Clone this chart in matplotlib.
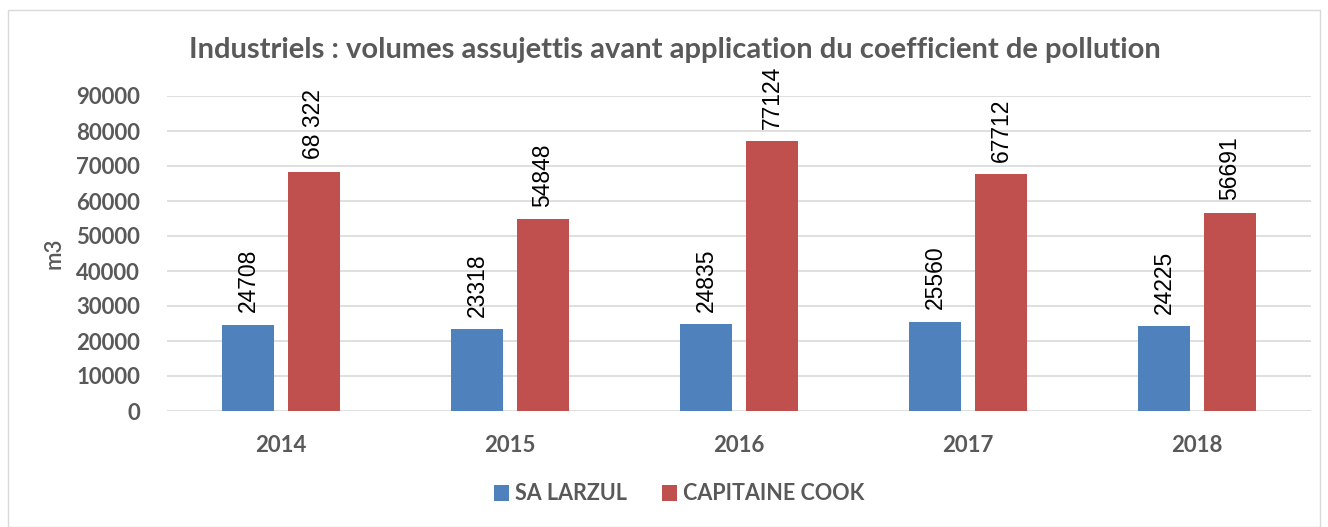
import matplotlib
matplotlib.use("Agg")
import matplotlib.pyplot as plt
import numpy as np
from matplotlib.patches import Rectangle

years = ["2014", "2015", "2016", "2017", "2018"]
sa_larzul = [24708, 23318, 24835, 25560, 24225]
capitaine_cook = [68322, 54848, 77124, 67712, 56691]
label_sa = ["24708", "23318", "24835", "25560", "24225"]
label_cc = ["68 322", "54848", "77124", "67712", "56691"]
series_names = ["SA LARZUL", "CAPITAINE COOK"]
yticks = list(range(0, 90001, 10000))

BLUE = "#4F81BD"
RED = "#C0504D"
GREY = "#595959"

fig = plt.figure(figsize=(13.28, 5.27), dpi=100)
fig.patch.set_facecolor("white")
# chart border
fig.add_artist(Rectangle((8/1328, 0.0), (1320-8)/1328, 1 - 10/527, transform=fig.transFigure,
                         fill=False, edgecolor="#D9D9D9", linewidth=1.0))

ax = fig.add_axes([166.5/1328, 1 - 411/527, (1311.5-166.5)/1328, (411-96)/527])
x = np.arange(len(years))
w = 0.227
off = 0.144
b1 = ax.bar(x - off, sa_larzul, width=w, color=BLUE, label=series_names[0], zorder=3)
b2 = ax.bar(x + off, capitaine_cook, width=w, color=RED, label=series_names[1], zorder=3)

for bars, labels in ((b1, label_sa), (b2, label_cc)):
    for r, t in zip(bars, labels):
        ax.annotate(t, (r.get_x() + r.get_width()/2, r.get_height()),
                    xytext=(0, 9), textcoords="offset points", rotation=90,
                    ha="center", va="bottom", fontsize=16.5, color="black",
                    family="Liberation Sans", annotation_clip=False)

ax.set_xlim(-0.5, len(years) - 0.5)
ax.set_ylim(0, 90000)
ax.set_yticks(yticks)
ax.set_yticklabels([str(v) for v in yticks], fontsize=16, fontweight="bold", color=GREY, family="Lato")
ax.set_xticks(x)
ax.set_xticklabels(years, fontsize=16, fontweight="bold", color=GREY, family="Lato")
ax.tick_params(axis="both", length=0)
ax.tick_params(axis="x", pad=17)
ax.tick_params(axis="y", pad=19)
ax.yaxis.grid(True, color="#D9D9D9", linewidth=1.2, zorder=0)
ax.set_axisbelow(True)
for s in ax.spines.values():
    s.set_visible(False)
ax.set_ylabel("m3", fontsize=16, color=GREY, family="Lato", fontweight="semibold", labelpad=8)

fig.text(675/1328, 1 - 50/527, "Industriels : volumes assujettis avant application du coefficient de pollution",
         ha="center", va="center", fontsize=21, fontweight="bold", color=GREY, family="Lato")

leg = fig.legend(handles=[b1, b2], labels=series_names, loc="center", bbox_to_anchor=(679/1328, 1 - 494/527),
                 ncol=2, frameon=False, handlelength=0.7, handleheight=0.7, handletextpad=0.3,
                 columnspacing=1.6, prop={"family": "Lato", "weight": "bold", "size": 15.5})
for t in leg.get_texts():
    t.set_color(GREY)

fig.savefig("out.png", dpi=100, facecolor="white")
